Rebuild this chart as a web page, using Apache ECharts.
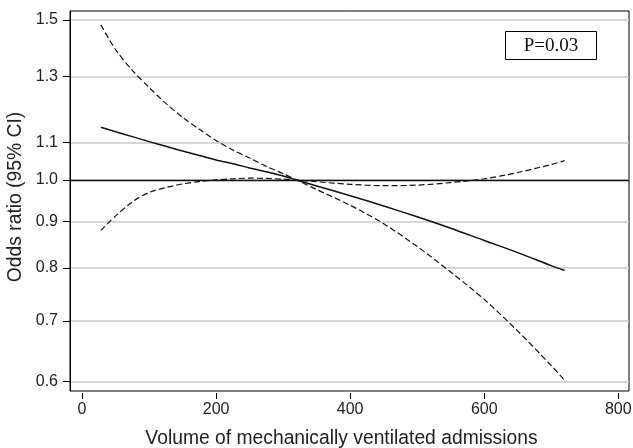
<!DOCTYPE html>
<html>
<head>
<meta charset="utf-8">
<script src="https://cdn.jsdelivr.net/npm/echarts@6/dist/echarts.min.js"></script>
<style>
html,body{margin:0;padding:0;background:#fff;}
#c{width:633px;height:448px;}
</style>
</head>
<body>
<div id="c"></div>
<script>
// ---- data ----
const xTicks = [0, 200, 400, 600, 800];
const yTicks = [0.6, 0.7, 0.8, 0.9, 1.0, 1.1, 1.3, 1.5];

// volume of mechanically ventilated admissions (sample positions)
const volume = [28, 50, 75, 100, 125, 150, 175, 200, 225, 250, 275, 300, 320, 350, 400, 450, 500, 550, 600, 650, 700, 720];

// point estimate (solid line)
const estOR = [1.143, 1.130, 1.116, 1.102, 1.089, 1.076, 1.064, 1.052, 1.042, 1.031, 1.021, 1.010, 1.000,
               0.985, 0.961, 0.936, 0.911, 0.885, 0.858, 0.832, 0.805, 0.795];

// CI bound that starts high (dashed)
const ciAOR = [1.481, 1.391, 1.320, 1.264, 1.214, 1.172, 1.137, 1.105, 1.079, 1.057, 1.035, 1.016, 1.000,
               0.976, 0.938, 0.895, 0.845, 0.792, 0.739, 0.682, 0.625, 0.602];

// CI bound that starts low (dashed)
const ciBOR = [0.880, 0.913, 0.946, 0.969, 0.981, 0.990, 0.996, 1.000, 1.003, 1.0045, 1.004, 1.002, 1.000,
               0.9955, 0.989, 0.9856, 0.987, 0.9935, 1.003, 1.019, 1.040, 1.050];

const refValue = 1.0;
const pText = 'P=0.03';

const pairs = (xs, ys) => xs.map((x, i) => [x, ys[i]]);

const chart = echarts.init(document.getElementById('c'), null, {renderer: 'canvas'});
const sansFont = 'Liberation Sans';
chart.setOption({
  animation: false,
  backgroundColor: '#fff',
  grid: {
    left: 70, right: 4, top: 11, bottom: 57,
    outerBoundsMode: 'none',
    containLabel: false,
    show: true, borderColor: '#000', borderWidth: 1, backgroundColor: '#fff'
  },
  xAxis: {
    type: 'value',
    min: -18, max: 816,
    offset: 2,
    axisLine: {show: false},
    axisTick: {show: true, customValues: xTicks, length: 6, lineStyle: {color: '#000', width: 1}},
    axisLabel: {customValues: xTicks, fontSize: 16, color: '#222', fontFamily: sansFont, margin: 9},
    splitLine: {show: false},
    name: 'Volume of mechanically ventilated admissions',
    nameLocation: 'middle',
    nameGap: 36,
    nameTextStyle: {fontSize: 19.3, color: '#222', fontFamily: sansFont, padding: [0, 16, 0, 0]}
  },
  yAxis: {
    type: 'log',
    logBase: 10,
    min: 0.586, max: 1.534,
    axisLine: {show: true, onZero: false, lineStyle: {color: '#000', width: 1}},
    axisTick: {show: true, customValues: yTicks, length: 7, lineStyle: {color: '#000', width: 1}},
    axisLabel: {customValues: yTicks, fontSize: 16, color: '#222', fontFamily: sansFont, margin: 12,
      formatter: v => Number(v).toFixed(1)},
    splitLine: {show: true, lineStyle: {color: '#c8c8c8', width: 1.5}},
    name: 'Odds ratio (95% CI)',
    nameLocation: 'middle',
    nameGap: 35,
    nameTextStyle: {fontSize: 19.3, color: '#222', fontFamily: sansFont, padding: [0, 0, 0, 8]}
  },
  series: [
    {
      type: 'line', data: pairs(volume, ciAOR), smooth: 0.3, showSymbol: false,
      lineStyle: {color: '#111', width: 1.2, type: [6, 3]}, silent: true, z: 3
    },
    {
      type: 'line', data: pairs(volume, ciBOR), smooth: 0.3, showSymbol: false,
      lineStyle: {color: '#111', width: 1.2, type: [6, 3]}, silent: true, z: 3
    },
    {
      type: 'line', data: pairs(volume, estOR), smooth: 0.3, showSymbol: false,
      lineStyle: {color: '#111', width: 1.5, type: 'solid'}, silent: true, z: 4,
      markLine: {
        silent: true, symbol: ['none', 'none'], label: {show: false},
        lineStyle: {color: '#111', width: 1.4, type: 'solid'},
        data: [{yAxis: refValue}]
      }
    }
  ],
  graphic: [
    {
      type: 'group', left: 505, top: 31,
      children: [
        {type: 'rect', shape: {x: 0, y: 0, width: 91, height: 28},
         style: {fill: '#fff', stroke: '#000', lineWidth: 1}},
        {type: 'text', x: 45.5, y: 15,
         style: {text: pText, font: '19px "Liberation Serif"', fill: '#111', align: 'center', verticalAlign: 'middle'}}
      ]
    }
  ]
});
</script>
</body>
</html>
